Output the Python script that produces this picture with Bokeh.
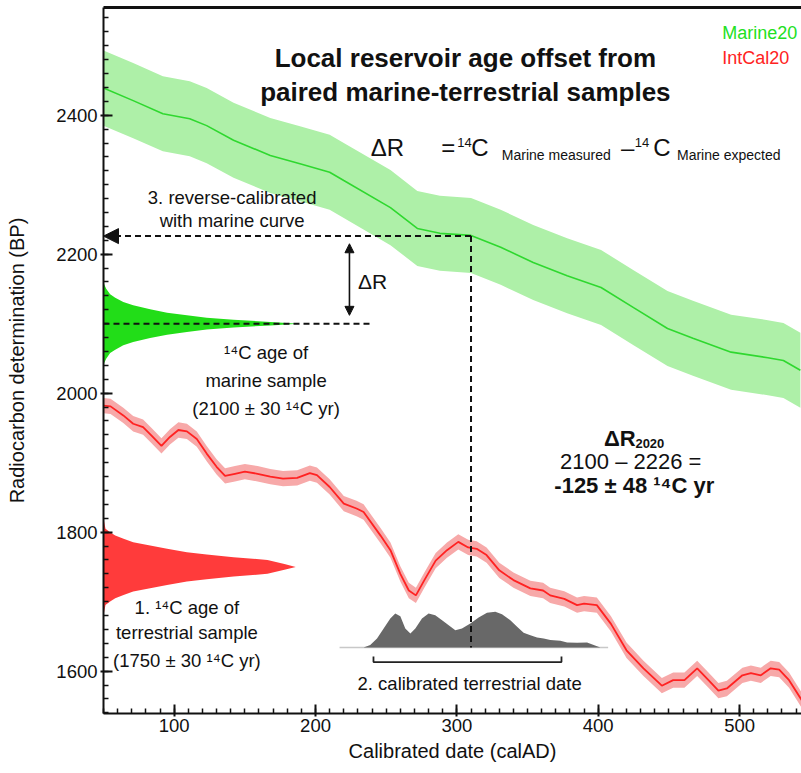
from bokeh.plotting import figure
from bokeh.models import (Label, Arrow, NormalHead, LinearAxis, FixedTicker,
                          SingleIntervalTicker, Range1d)
from bokeh.embed import file_html
from bokeh.resources import INLINE

# ---------------- data ----------------
MARINE_X = [50, 71, 92, 111, 123, 142, 168, 189, 210, 220, 253, 272, 288, 310,
            331, 354, 378, 402, 425, 449, 467, 494, 520, 531, 543]
MARINE_Y = [2439, 2421, 2402, 2395, 2385, 2364, 2342, 2330, 2318, 2306, 2267,
            2237, 2230, 2227, 2210, 2188, 2169, 2152, 2123, 2093, 2079, 2059,
            2051, 2047, 2033]
MARINE_ERR = 54

INTCAL_X = [50, 55, 64, 71, 78, 84, 91, 97, 103, 109, 116, 123, 130, 136, 143,
            150, 159, 168, 177, 187, 196, 201, 210, 220, 229, 234, 246, 253,
            260, 266, 271, 277, 285, 293, 301, 308, 314, 321, 330, 340, 352,
            361, 366, 376, 385, 390, 399, 409, 420, 432, 445, 453, 461, 470,
            478, 485, 491, 502, 508, 515, 522, 528, 535, 544]
INTCAL_Y = [1982, 1981, 1968, 1956, 1951, 1939, 1924, 1937, 1947, 1945, 1934,
            1913, 1894, 1881, 1884, 1887, 1884, 1880, 1877, 1878, 1885, 1882,
            1865, 1841, 1834, 1829, 1795, 1774, 1740, 1716, 1709, 1731, 1759,
            1774, 1786, 1778, 1776, 1767, 1745, 1731, 1719, 1716, 1709, 1704,
            1695, 1697, 1695, 1668, 1630, 1604, 1579, 1587, 1587, 1604, 1587,
            1572, 1575, 1594, 1597, 1594, 1604, 1602, 1587, 1558]
INTCAL_ERR = 11

# measured ages
MARINE_AGE = 2100
TERR_AGE = 1750
# drawn age-distribution profiles: offset from the age (yr) -> length (cal yr)
MARINE_DIST_OFF = [0, 2.5, 5.5, 8.5, 12.0, 15.8, 20.6, 26.4, 31.2, 37.4, 42.2,
                   50.4, 56.6, 62]
MARINE_DIST_LEN = [138, 118, 92, 73, 59, 45, 33, 21, 14, 8.3, 4.7, 1.9, 0.5, 0]
TERR_DIST_OFF = [0, 4, 10, 14, 17.8, 21.2, 26, 30.8, 35.5, 40.4, 45.2, 50,
                 54.8, 66.8, 72]
TERR_DIST_LEN = [136, 128, 116, 92, 73, 59, 45, 33, 21, 14.2, 8.3, 4.7, 1.4,
                 0.3, 0]

# calibrated terrestrial date (probability, drawn in 14C-yr height units)
CAL_X = [234.0, 238.7, 243.5, 248.2, 252.9, 256.4, 260.0, 263.5, 267.1, 270.6,
         275.3, 280.0, 284.7, 289.5, 294.2, 298.9, 303.6, 309.5, 315.4, 321.3,
         327.2, 331.9, 337.8, 342.6, 347.2, 352.0, 356.7, 361.4, 366.1, 373.2,
         378.0, 385.0, 392.1, 396.8, 401.5]
CAL_H = [0, 3.4, 13.0, 27.3, 41.7, 48.9, 45.1, 27.3, 20.1, 27.3, 41.7, 48.9,
         46.5, 39.3, 32.1, 24.9, 27.3, 34.5, 43.2, 49.9, 51.3, 48.0, 39.3, 29.7,
         21.1, 17.7, 14.4, 13.0, 10.6, 9.6, 7.2, 6.7, 7.2, 3.4, 0]
CAL_BASE = 1634
CAL_TAIL = [217, 407]
CAL_RANGE = [241, 374]
CAL_MEDIAN = 310
MARINE_EXPECTED = 2226

X_TICK = 100
Y_TICK = 200

# ---------------- styling ----------------
FONT = "Liberation Sans"
TXT = "#111111"
X0, X1 = 50, 543.8
Y0, Y1 = 1539, 2555

p = figure(width=801, height=773, x_range=Range1d(X0, X1),
           y_range=Range1d(Y0, Y1), output_backend="svg",
           toolbar_location=None, min_border_left=103, min_border_right=0,
           min_border_top=7, min_border_bottom=60, outline_line_color=None,
           background_fill_color="white", border_fill_color="white")
p.grid.visible = False

p.xaxis.ticker = SingleIntervalTicker(interval=X_TICK, num_minor_ticks=10)
p.yaxis.ticker = SingleIntervalTicker(interval=Y_TICK, num_minor_ticks=10)
p.xaxis.axis_label = "Calibrated date (calAD)"
p.yaxis.axis_label = "Radiocarbon determination (BP)"
for ax in (p.xaxis[0], p.yaxis[0]):
    ax.axis_line_width = 2
    ax.axis_line_color = "#111111"
    ax.major_tick_line_width = 2
    ax.major_tick_line_color = "#111111"
    ax.minor_tick_line_width = 1.5
    ax.minor_tick_line_color = "#111111"
    ax.major_tick_in = 9
    ax.major_tick_out = 3
    ax.minor_tick_in = 5
    ax.minor_tick_out = 0
    ax.major_label_text_font = FONT
    ax.major_label_text_font_size = "18.5px"
    ax.major_label_text_color = TXT
    ax.axis_label_text_font = FONT
    ax.axis_label_text_font_size = "20px"
    ax.axis_label_text_font_style = "normal"
    ax.axis_label_text_color = TXT
p.xaxis.major_label_standoff = 2
p.xaxis.axis_label_standoff = 5
p.yaxis.major_label_standoff = 3
p.yaxis.axis_label_standoff = 25

top = LinearAxis(ticker=FixedTicker(ticks=[]), axis_line_width=3,
                 axis_line_color="#111111", major_tick_in=0, major_tick_out=0,
                 minor_tick_in=0, minor_tick_out=0,
                 major_label_text_font_size="0px", major_label_standoff=0)
p.add_layout(top, "above")

# ---------------- curves ----------------
p.varea(x=MARINE_X, y1=[v - MARINE_ERR for v in MARINE_Y],
        y2=[v + MARINE_ERR for v in MARINE_Y], fill_color="#aef0a8")
p.line(MARINE_X, MARINE_Y, line_color="#2fd82f", line_width=1.6)

p.varea(x=INTCAL_X, y1=[v - INTCAL_ERR for v in INTCAL_Y],
        y2=[v + INTCAL_ERR for v in INTCAL_Y], fill_color="#f7a9a9")
p.line(INTCAL_X, INTCAL_Y, line_color="#ff2222", line_width=1.8)


def dist_patch(age, offs, lens, color):
    xs = [X0 + l for l in lens] + [X0 + l for l in reversed(lens)]
    ys = [age + o for o in offs] + [age - o for o in reversed(offs)]
    p.patch(xs, ys, fill_color=color, line_color=None)


dist_patch(MARINE_AGE, MARINE_DIST_OFF, MARINE_DIST_LEN, "#22dd18")
dist_patch(TERR_AGE, TERR_DIST_OFF, TERR_DIST_LEN, "#ff3b3b")

# calibrated date
p.line(CAL_TAIL, [CAL_BASE, CAL_BASE], line_color="#c8c8c8", line_width=1.5)
p.varea(x=CAL_X, y1=[CAL_BASE] * len(CAL_X),
        y2=[CAL_BASE + h for h in CAL_H], fill_color="#686868")

# bracket under the calibrated date
p.line([CAL_RANGE[0], CAL_RANGE[0], CAL_RANGE[1], CAL_RANGE[1]],
       [CAL_BASE - 13, CAL_BASE - 21, CAL_BASE - 21, CAL_BASE - 13],
       line_color="#222222", line_width=1.8)

# dashed construction lines
DASH = "6 4"
p.line([CAL_MEDIAN, CAL_MEDIAN], [MARINE_EXPECTED, CAL_BASE],
       line_color="#111111", line_width=2, line_dash=DASH)
p.line([X0, 239], [MARINE_AGE, MARINE_AGE], line_color="#111111",
       line_width=2, line_dash=DASH)
p.add_layout(Arrow(end=NormalHead(size=15, fill_color="#111111",
                                  line_color="#111111"),
                   x_start=CAL_MEDIAN, y_start=MARINE_EXPECTED,
                   x_end=X0, y_end=MARINE_EXPECTED,
                   line_color="#111111", line_width=2, line_dash=DASH))
# Delta R arrow
p.add_layout(Arrow(start=NormalHead(size=9, fill_color="#111111",
                                    line_color="#111111"),
                   end=NormalHead(size=9, fill_color="#111111",
                                  line_color="#111111"),
                   x_start=224, y_start=MARINE_AGE + 12,
                   x_end=224, y_end=MARINE_EXPECTED - 11,
                   line_color="#111111", line_width=1.6))


# ---------------- texts ----------------
def lab(x, y, text, size, align="center", baseline="middle", bold=False,
        color=TXT):
    p.add_layout(Label(x=x, y=y, text=text, text_font=FONT,
                       text_font_size=f"{size}px", text_align=align,
                       text_baseline=baseline,
                       text_font_style="bold" if bold else "normal",
                       text_color=color))


lab(306, 2483, "Local reservoir age offset from", 26, bold=True)
lab(306, 2434, "paired marine-terrestrial samples", 26, bold=True)

lab(487.7, 2518, "Marine20", 18, align="left", color="#22e022")
lab(487.7, 2483, "IntCal20", 18, align="left", color="#ff2222")

# equation
lab(239.0, 2353, "\u0394R", 24, align="left", baseline="alphabetic")
lab(288.9, 2353, "=", 24, align="left", baseline="alphabetic")
lab(300.2, 2361, "14", 13, align="left", baseline="alphabetic")
lab(310.2, 2353, "C", 24, align="left", baseline="alphabetic")
lab(331.8, 2343, "Marine measured", 14, align="left", baseline="alphabetic")
lab(416.1, 2353, "\u2013", 24, align="left", baseline="alphabetic")
lab(425.9, 2361, "14", 13, align="left", baseline="alphabetic")
lab(439.0, 2353, "C", 24, align="left", baseline="alphabetic")
lab(455.7, 2343, "Marine expected", 14, align="left", baseline="alphabetic")

lab(141, 2282, "3. reverse-calibrated", 18.5)
lab(141, 2248, "with marine curve", 18.5)
lab(230, 2160, "\u0394R", 21, align="left")

lab(165, 2058, "\u00b9\u2074C age of", 18.5)
lab(165, 2018, "marine sample", 18.5)
lab(165, 1978, "(2100 \u00b1 30 \u00b9\u2074C yr)", 18.5)

lab(109, 1692, "1. \u00b9\u2074C age of", 18.5)
lab(109, 1655, "terrestrial sample", 18.5)
lab(109, 1615, "(1750 \u00b1 30 \u00b9\u2074C yr)", 18.5)

lab(309, 1582, "2. calibrated terrestrial date", 18.5)

lab(404, 1935, "\u0394R", 22, align="left", baseline="alphabetic", bold=True)
lab(426.3, 1927, "2020", 13, align="left", baseline="alphabetic", bold=True)
lab(423, 1901, "2100 \u2013 2226 =", 22)
lab(425.5, 1867, "-125 \u00b1 48 \u00b9\u2074C yr", 22, bold=True)

open("out.html", "w").write(file_html(p, INLINE))
